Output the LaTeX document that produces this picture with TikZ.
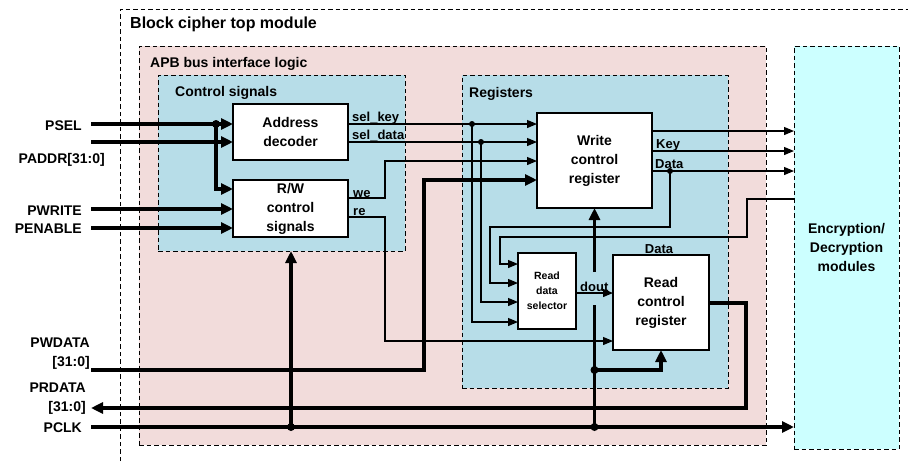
\documentclass[tikz,border=0pt]{standalone}
\usepackage{fontspec}
\setmainfont{Liberation Sans}
\usetikzlibrary{arrows.meta, positioning}

\definecolor{apbpink}{HTML}{F2DCDB}
\definecolor{regblue}{HTML}{B7DDE8}
\definecolor{enccyan}{HTML}{CCFFFF}

\begin{document}
\begin{tikzpicture}[x=1pt, y=-1pt, line join=miter,
    region/.style={draw, dash pattern=on 4.5pt off 3pt, line width=0.9pt, inner sep=0pt, outer sep=0pt, anchor=north west},
    blk/.style={draw, fill=white, line width=1.1pt, inner sep=0pt, outer sep=0pt, anchor=north west, align=center, font=\bfseries\fontsize{14}{19}\selectfont},
    txt/.style={inner sep=0pt, font=\bfseries\fontsize{14}{19}\selectfont},
    small/.style={inner sep=0pt, font=\bfseries\fontsize{13}{16}\selectfont},
    sig/.style={line width=1.2pt, -{Triangle[length=10pt,width=8pt]}},
    bus/.style={line width=3.6pt, -{Triangle[length=12pt,width=11pt]}},
    sdot/.style={circle, fill=black, inner sep=0pt, minimum size=6pt},
    bdot/.style={circle, fill=black, inner sep=0pt, minimum size=8pt}]

    \fill[white] (0,0) rectangle (908,461);
    \useasboundingbox (0,0) rectangle (908,461);

    % module frames
    \draw[region] (120,461) |- (908,9);
    \node[txt, anchor=base west, font=\bfseries\fontsize{16}{19}\selectfont] (ttop) at (130,28) {Block cipher top module};
    \node[region, fill=apbpink, minimum width=627pt, minimum height=399pt] (apb) at (139,46) {};
    \node[txt, anchor=base west] (tapb) at (150,67) {APB bus interface logic};
    \node[region, fill=regblue, minimum width=247pt, minimum height=176pt] (ctl) at (158,75) {};
    \node[txt, anchor=base west] (tctl) at (175,96) {Control signals};
    \node[region, fill=regblue, minimum width=266pt, minimum height=313pt] (regs) at (462,75) {};
    \node[txt, anchor=base west] (tregs) at (469,97) {Registers};
    \node[region, fill=enccyan, minimum width=105pt, minimum height=403pt, align=center, font=\bfseries\fontsize{14}{19}\selectfont] (enc) at (794,46) {Encryption/\\Decryption\\modules};

    % blocks
    \node[blk, minimum width=115pt, minimum height=56pt] (adec) at (233,104) {Address\\decoder};
    \node[blk, minimum width=115pt, minimum height=57pt] (rwc) at (233,180) {R/W\\control\\signals};
    \node[blk, minimum width=115pt, minimum height=95pt] (wcr) at (537,113) {Write\\control\\register};
    \node[blk, minimum width=58pt, minimum height=76pt, font=\bfseries\fontsize{10.5}{15}\selectfont] (rds) at (518,253) {Read\\data\\selector};
    \node[blk, minimum width=96pt, minimum height=95pt] (rcr) at (613,255) {Read\\control\\register};

    % bus ports
    \node[txt, anchor=base east] (psel) at (82,130) {PSEL};
    \node[txt, anchor=base east] (paddr) at (105,163) {PADDR[31:0]};
    \node[txt, anchor=base east] (pwrite) at (82,215) {PWRITE};
    \node[txt, anchor=base east] (penable) at (82,233) {PENABLE};
    \node[txt, anchor=base east] (pwdata) at (90,347) {PWDATA};
    \node[txt, anchor=base east] (pwdatab) at (90,366) {[31:0]};
    \node[txt, anchor=base east] (prdata) at (86,392) {PRDATA};
    \node[txt, anchor=base east] (prdatab) at (86,411) {[31:0]};
    \node[txt, anchor=base east] (pclk) at (82,432) {PCLK};

    \coordinate (pselin) at (91,124);
    \coordinate (paddrin) at (91,142);
    \coordinate (pwritein) at (91,209);
    \coordinate (penablein) at (91,228);
    \coordinate (pwdatain) at (91,370);
    \coordinate (prdataout) at (91,408);
    \coordinate (pclkin) at (91,427);
    \coordinate (j1) at (216,124);
    \coordinate (j2) at (472,124);
    \coordinate (j3) at (481,142);
    \coordinate (j4) at (670,171);
    \coordinate (j5) at (wcr.south |- pclkin);
    \coordinate (j6) at (wcr.south |- 0,370);
    \coordinate (j7) at (291,427);
    \coordinate (wbus) at (424,180);

    % thick buses
    \draw[bus] (pselin) -- (adec.west |- pselin);
    \draw[bus] (j1) |- (rwc.west |- 0,189);
    \draw[bus] (paddrin) -- (adec.west |- paddrin);
    \draw[bus] (pwritein) -- (rwc.west |- pwritein);
    \draw[bus] (penablein) -- (rwc.west |- penablein);
    \draw[bus] (pwdatain) -| (wbus) -- (wcr.west |- wbus);
    \draw[bus] (rcr.east |- 0,303) -| (746,408) -- (prdataout);
    \draw[bus] (pclkin) -- (enc.west |- pclkin);
    \draw[bus] (j7) -- (j7 |- ctl.south);
    \draw[bus, -] (j5) -- (wcr.south |- 0,305);
    \draw[bus] (wcr.south |- 0,272) -- (wcr.south);
    \draw[bus] (j6) -| (rcr.south);

    % control wires
    \draw[sig] (adec.east |- 0,124) -- (wcr.west |- 0,124);
    \draw[sig] (j2) |- (rds.west |- 0,322);
    \draw[sig] (adec.east |- 0,142) -- (wcr.west |- 0,142);
    \draw[sig] (j3) |- (rds.west |- 0,302);
    \draw[sig] (rwc.east |- 0,198) -- (385,198) |- (wcr.west |- 0,161);
    \draw[sig] (rwc.east |- 0,217) -- (385,217) |- (rcr.west |- 0,341);
    \draw[sig] (wcr.east |- 0,131) -- (enc.west |- 0,131);
    \draw[sig] (wcr.east |- 0,151) -- (enc.west |- 0,151);
    \draw[sig] (wcr.east |- 0,171) -- (enc.west |- 0,171);
    \draw[sig] (j4) -- (670,227) -| (490,283) -- (rds.west |- 0,283);
    \draw[sig] (enc.west |- 0,199) -- (747,199) |- (500,237) |- (rds.west |- 0,264);
    \draw[sig] (rds.east |- 0,293) -- (rcr.west |- 0,293);

    \node[small, anchor=base west] (lkey) at (352,121) {sel\_key};
    \node[small, anchor=base west] (ldata) at (352,139) {sel\_data};
    \node[small, anchor=base west] (lwe) at (353,197) {we};
    \node[small, anchor=base west] (lre) at (353,215) {re};
    \node[small, anchor=base west] (okey) at (656,148) {Key};
    \node[small, anchor=base west] (odata) at (655,168) {Data};
    \node[small, anchor=base west] (ldout) at (580,291) {dout};
    \node[small, anchor=base] (rdata) at (659,253) {Data};

    % junctions
    \node[bdot] at (j1) {};
    \node[bdot] at (j5) {};
    \node[bdot] at (j6) {};
    \node[bdot] at (j7) {};
    \node[sdot] at (j2) {};
    \node[sdot] at (j3) {};
    \node[sdot] at (j4) {};

\end{tikzpicture}
\end{document}
